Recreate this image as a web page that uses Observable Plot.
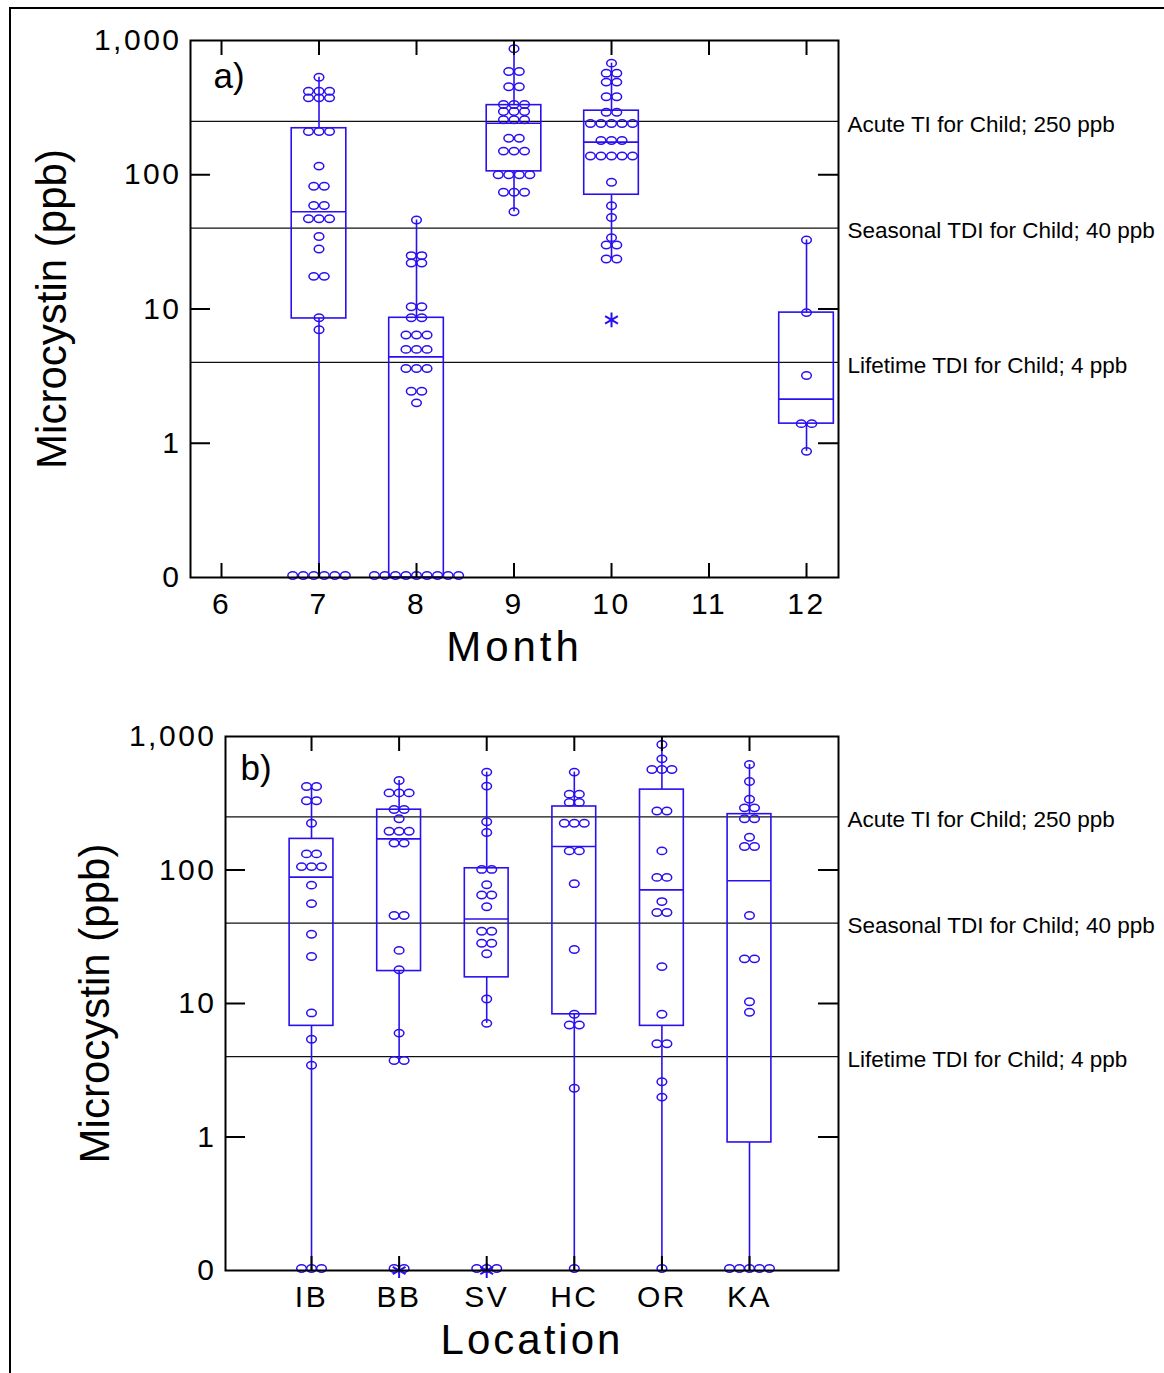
<!DOCTYPE html>
<html><head><meta charset="utf-8">
<script src="https://cdn.jsdelivr.net/npm/d3@7"></script>
<script src="https://cdn.jsdelivr.net/npm/@observablehq/plot@0.6"></script>
<style>
html,body{margin:0;padding:0;background:#fff;}
#page{position:relative;width:1164px;height:1373px;overflow:hidden;background:#fff;}
#border{position:absolute;left:9px;top:7px;width:1300px;height:1500px;border-left:2px solid #000;border-top:2px solid #000;}
.panel{position:absolute;left:0;}
</style></head>
<body>
<div id="page"><div id="border"></div><div id="pa" class="panel" style="top:0px"></div><div id="pb" class="panel" style="top:690px"></div></div>
<script>
// ---------- Reference lines ----------
const refValues = [250, 40, 4];
const refLabels = ["Acute TI for Child; 250 ppb", "Seasonal TDI for Child; 40 ppb", "Lifetime TDI for Child; 4 ppb"];
const yTicks = [0, 1, 10, 100, 1000];

// ---------- Panel a: by month ----------
const months = [7, 8, 9, 10, 12];
const monthTicks = [6, 7, 8, 9, 10, 11, 12];
const monthQ1 = [8.5, 0, 106, 71, 1.4];
const monthMedian = [53, 4.4, 242, 175, 2.13];
const monthQ3 = [222, 8.6, 330, 300, 9.4];
const monthLo = [0, 0, 53, 23.6, 0.87];
const monthHi = [533, 46, 867, 678, 32.7];
const month7 = [533, 419,419,419, 374,374,374, 210,210,210, 116, 82,82, 59,59, 47,47,47, 34.7, 28, 17.5,17.5, 8.6, 7.0, 0,0,0,0,0,0];
const month8 = [46, 25,25, 22,22, 10.4,10.4, 8.6,8.6, 6.4,6.4,6.4, 5.0,5.0,5.0, 3.6,3.6,3.6, 2.44,2.44, 2.0, 0,0,0,0,0,0,0,0,0];
const month9 = [867, 588,588, 452,452, 334,334,334, 296,296,296, 257,257,257, 187,187, 150,150,150, 100,100,100,100, 74,74,74, 53];
const month10 = [678, 571,571, 490,490, 381,381, 292,292, 241,241,241,241,241, 180,180,180, 138,138,138,138,138, 88, 58.7, 48, 34, 30,30, 23.6,23.6];
const month12 = [32.7, 9.4, 3.2, 1.4,1.4, 0.87];
const monthOutlierX = [10];
const monthOutlierV = [8.3];

// ---------- Panel b: by location ----------
const locations = ["IB", "BB", "SV", "HC", "OR", "KA"];
const locQ1 = [6.8, 17.5, 15.7, 8.3, 6.8, 0.91];
const locMedian = [88.4, 171, 43, 150, 71, 83];
const locQ3 = [171, 283, 103, 299, 400, 262];
const locLo = [0, 3.74, 7.1, 0, 0, 0];
const locHi = [430, 468, 541, 541, 871, 617];
const locIB = [422,422, 330,330, 224, 132,132, 106,106,106, 77, 56, 33, 22.5, 8.5, 5.4, 3.45, 0,0,0];
const locBB = [468, 378,378,378, 284,284, 242, 195,195,195, 159,159, 45.6,45.6, 25, 17.9, 6.0, 3.74,3.74, 0,0];
const locSV = [541, 425, 230, 191, 101,101, 77.5, 65,65, 53, 34.8,34.8, 28.3,28.3, 23.6, 10.8, 7.1, 0,0,0];
const locHC = [541, 370,370, 321,321, 224,224,224, 139,139, 79, 25.4, 8.3, 6.9,6.9, 2.32, 0];
const locOR = [871, 680, 566,566,566, 277,277, 139, 88,88, 58, 48,48, 18.9, 8.3, 5.0,5.0, 2.59, 1.99, 0];
const locKA = [617, 460, 339, 292,292, 242,242, 176, 150,150, 45.6, 21.6,21.6, 10.3, 8.6, 0,0,0,0,0];
const locOutlierX = ["BB", "SV"];
const locOutlierV = [0, 0];

// ---------- helpers ----------
const BLUE = "#2a10f0";
const FLOOR = 0.1; // "0" is drawn at the bottom of the log axis
const fy = v => Math.max(v, FLOOR);
const FONT = "'Liberation Sans', Arial, Helvetica, sans-serif";

const ellipse = {
  draw(ctx, size) {
    const r = Math.sqrt(size / Math.PI), rx = r * 1.3, ry = r, k = 0.5523;
    ctx.moveTo(rx, 0);
    ctx.bezierCurveTo(rx, k * ry, k * rx, ry, 0, ry);
    ctx.bezierCurveTo(-k * rx, ry, -rx, k * ry, -rx, 0);
    ctx.bezierCurveTo(-rx, -k * ry, -k * rx, -ry, 0, -ry);
    ctx.bezierCurveTo(k * rx, -ry, rx, -k * ry, rx, 0);
    ctx.closePath();
  }
};

function layoutDots(groups, spacing) {
  const out = [];
  for (const g of groups) {
    for (const [v, arr] of d3.group(g.values, v => v)) {
      const n = arr.length;
      arr.forEach((_, i) => out.push({x: g.x + (i - (n - 1) / 2) * spacing, v, y: fy(v)}));
    }
  }
  return out;
}

function panel(o) {
  const fw = o.width - o.ml - o.mr, fh = o.height - o.mt - o.mb;
  const boxes = o.xs.map((x, i) => ({x, q1: fy(o.q1[i]), med: o.med[i], q3: o.q3[i], lo: fy(o.lo[i]), hi: o.hi[i]}));
  const dots = layoutDots(o.xs.map((x, i) => ({x, values: o.values[i]})), o.spacing);
  const refs = refValues.map((v, i) => ({v, label: refLabels[i]}));
  const hw = o.halfWidth;
  const ls = {stroke: BLUE, strokeWidth: 1.6};
  const dotOpts = {x: "x", y: "y", symbol: ellipse, r: 3.7, stroke: BLUE, strokeWidth: 1.5, fill: "none"};
  const svg = Plot.plot({
    width: o.width, height: o.height,
    marginLeft: o.ml, marginRight: o.mr, marginTop: o.mt, marginBottom: o.mb,
    style: {fontFamily: FONT, fontSize: "30px", color: "#000", background: "transparent", overflow: "visible"},
    x: {type: "linear", domain: o.xDomain, ticks: o.xTicks, tickFormat: o.xFormat, tickSize: 0, tickPadding: o.xPad, label: null},
    y: {type: "log", domain: [FLOOR, 1000], ticks: yTicks.map(fy), tickFormat: d => d < 0.5 ? "0" : d3.format(",")(d), tickSize: 0, tickPadding: 9, label: null},
    marks: [
      Plot.ruleY(refs, {y: "v", stroke: "#111", strokeWidth: 1.4}),
      Plot.text(refs, {y: "v", text: "label", frameAnchor: "right", dx: 9, dy: 3, textAnchor: "start", fontSize: 22.5, fill: "#000"}),
      Plot.rect(boxes, {x1: d => d.x - hw, x2: d => d.x + hw, y1: "q1", y2: "q3", fill: "none", ...ls}),
      Plot.ruleY(boxes, {x1: d => d.x - hw, x2: d => d.x + hw, y: "med", ...ls}),
      Plot.ruleX(boxes, {x: "x", y1: "q3", y2: "hi", ...ls}),
      Plot.ruleX(boxes, {x: "x", y1: "lo", y2: "q1", ...ls}),
      Plot.dot(dots.filter(d => d.v > 0), dotOpts),
      Plot.dot(dots.filter(d => d.v <= 0), {...dotOpts, dy: -2}),
      Plot.dot(o.outliers, {x: "x", y: d => fy(d.v), symbol: "asterisk", r: 7, stroke: BLUE, strokeWidth: 2}),
      Plot.frame({stroke: "#000", strokeWidth: 2}),
      Plot.tickY([1, 10, 100], {y: d => d, insetRight: fw - 20, stroke: "#000", strokeWidth: 2}),
      Plot.tickY([1, 10, 100], {y: d => d, insetLeft: fw - 20, stroke: "#000", strokeWidth: 2}),
      Plot.tickX(o.xTicks, {x: d => d, insetBottom: fh - 15, stroke: "#000", strokeWidth: 2}),
      Plot.tickX(o.xTicks, {x: d => d, insetTop: fh - 14, stroke: "#000", strokeWidth: 2}),
      Plot.text([o.yTitle], {frameAnchor: "left", rotate: -90, dx: o.yTitleDx, dy: o.yTitleDy, fontSize: 42, textAnchor: "middle", fill: "#000"}),
      Plot.text([o.xTitle], {frameAnchor: "bottom", dy: o.xTitleDy, fontSize: 42, lineAnchor: "middle", fill: "#000"}),
      Plot.text([o.tag], {frameAnchor: "top-left", dx: o.tagDx, dy: o.tagDy, fontSize: 35, textAnchor: "start", lineAnchor: "middle", fill: "#000"})
    ]
  });
  d3.select(svg).selectAll("text").each(function() {
    const t = this.textContent;
    if (t === o.xTitle) this.setAttribute("letter-spacing", o.xTitleLs);
    else if (t.length < 6 && t !== o.tag) this.setAttribute("letter-spacing", "2.5");
  });
  return svg;
}

const svgA = panel({
  width: 1164, height: 690, ml: 190, mr: 326, mt: 40, mb: 113,
  xDomain: [5.682, 12.328], xTicks: monthTicks, xFormat: d => String(d), xPad: 15,
  xs: months, q1: monthQ1, med: monthMedian, q3: monthQ3, lo: monthLo, hi: monthHi,
  values: [month7, month8, month9, month10, month12],
  outliers: monthOutlierX.map((x, i) => ({x, v: monthOutlierV[i]})),
  halfWidth: 0.28, spacing: 0.108,
  yTitle: "Microcystin (ppb)", yTitleDx: -138, yTitleDy: 0,
  xTitle: "Month", xTitleDy: 70, xTitleLs: "4",
  tag: "a)", tagDx: 23, tagDy: 36
});
document.getElementById("pa").appendChild(svgA);

const svgB = panel({
  width: 1164, height: 683, ml: 225, mr: 326, mt: 46, mb: 103,
  xDomain: [0.018, 7.016], xTicks: [1, 2, 3, 4, 5, 6], xFormat: d => locations[d - 1], xPad: 15,
  xs: [1, 2, 3, 4, 5, 6], q1: locQ1, med: locMedian, q3: locQ3, lo: locLo, hi: locHi,
  values: [locIB, locBB, locSV, locHC, locOR, locKA],
  outliers: locOutlierX.map((c, i) => ({x: locations.indexOf(c) + 1, v: locOutlierV[i]})),
  halfWidth: 0.25, spacing: 0.114,
  yTitle: "Microcystin (ppb)", yTitleDx: -130, yTitleDy: 0,
  xTitle: "Location", xTitleDy: 70, xTitleLs: "3",
  tag: "b)", tagDx: 15, tagDy: 32
});
document.getElementById("pb").appendChild(svgB);
</script>
</body></html>
